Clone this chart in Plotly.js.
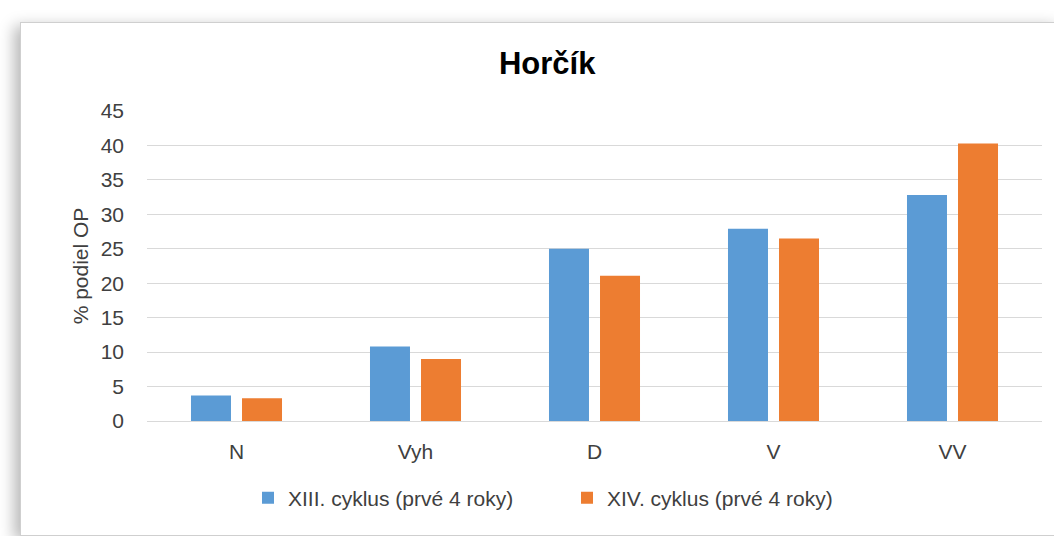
<!DOCTYPE html>
<html>
<head>
<meta charset="utf-8">
<script src="https://cdn.plot.ly/plotly-3.0.1.min.js"></script>
<style>
	html, body { margin: 0; padding: 0; background: #ffffff; overflow: hidden; width: 1054px; height: 536px; }
	#frame {
		position: absolute; left: 20px; top: 22px; width: 1040px; height: 512px;
		border: 1px solid #cfcfcf; background: #ffffff;
		box-shadow: -6px 4px 14px rgba(0, 0, 0, 0.28);
	}
	#chart { width: 1040px; height: 512px; }
</style>
</head>
<body>
<div id="frame"><div id="chart"></div></div>
<script>
	var categories = ['N', 'Vyh', 'D', 'V', 'VV'];
	var xiiiValues = [3.7, 10.8, 25.0, 27.9, 32.8];
	var xivValues = [3.3, 9.0, 21.1, 26.5, 40.3];
	var seriesNames = ['XIII. cyklus (prvé 4 roky)', 'XIV. cyklus (prvé 4 roky)'];
	var yTicks = [0, 5, 10, 15, 20, 25, 30, 35, 40, 45];

	var fontFamily = 'Liberation Sans, Arial, sans-serif';

	var xiii = {
		x : categories,
		y : xiiiValues,
		type : 'bar',
		name : seriesNames[0],
		marker : {
			color : '#5B9BD5'
		}
	};

	var xiv = {
		x : categories,
		y : xivValues,
		type : 'bar',
		name : seriesNames[1],
		marker : {
			color : '#ED7D31'
		}
	};

	var data = [xiii, xiv];

	var layout = {
		width : 1040,
		height : 512,
		margin : {
			l : 126,
			r : 19,
			t : 88,
			b : 114
		},
		paper_bgcolor : 'rgba(0,0,0,0)',
		plot_bgcolor : 'rgba(0,0,0,0)',
		font : {
			family : fontFamily,
			size : 21,
			color : '#404040'
		},
		title : {
			text : '<b>Horčík</b>',
			font : {
				family : fontFamily,
				size : 31,
				color : '#000000'
			},
			xref : 'container',
			yref : 'container',
			x : 0.506,
			y : 0.922,
			xanchor : 'center',
			yanchor : 'middle'
		},
		barmode : 'group',
		bargap : 0.43,
		bargroupgap : 0.216,
		xaxis : {
			type : 'category',
			showline : true,
			linecolor : '#d9d9d9',
			linewidth : 1,
			ticks : '',
			ticklabelstandoff : 12,
			tickfont : {
				size : 21,
				color : '#404040'
			}
		},
		yaxis : {
			title : {
				text : '% podiel OP',
				font : {
					size : 21,
					color : '#404040'
				},
				standoff : 6
			},
			range : [0, 45],
			tickvals : yTicks,
			zeroline : false,
			showgrid : true,
			gridcolor : '#d9d9d9',
			gridwidth : 1,
			ticks : '',
			ticklabelstandoff : 22,
			tickfont : {
				size : 21,
				color : '#404040'
			}
		},
		showlegend : true,
		legend : {
			orientation : 'h',
			xref : 'container',
			yref : 'container',
			x : 0.525,
			y : 0.072,
			xanchor : 'center',
			yanchor : 'middle',
			traceorder : 'normal',
			itemwidth : 30,
			entrywidth : 274,
			entrywidthmode : 'pixels',
			font : {
				size : 21,
				color : '#404040'
			}
		}
	};

	var config = {
		displayModeBar : false
	};
	Plotly.newPlot('chart', data, layout, config);
</script>
</body>
</html>
